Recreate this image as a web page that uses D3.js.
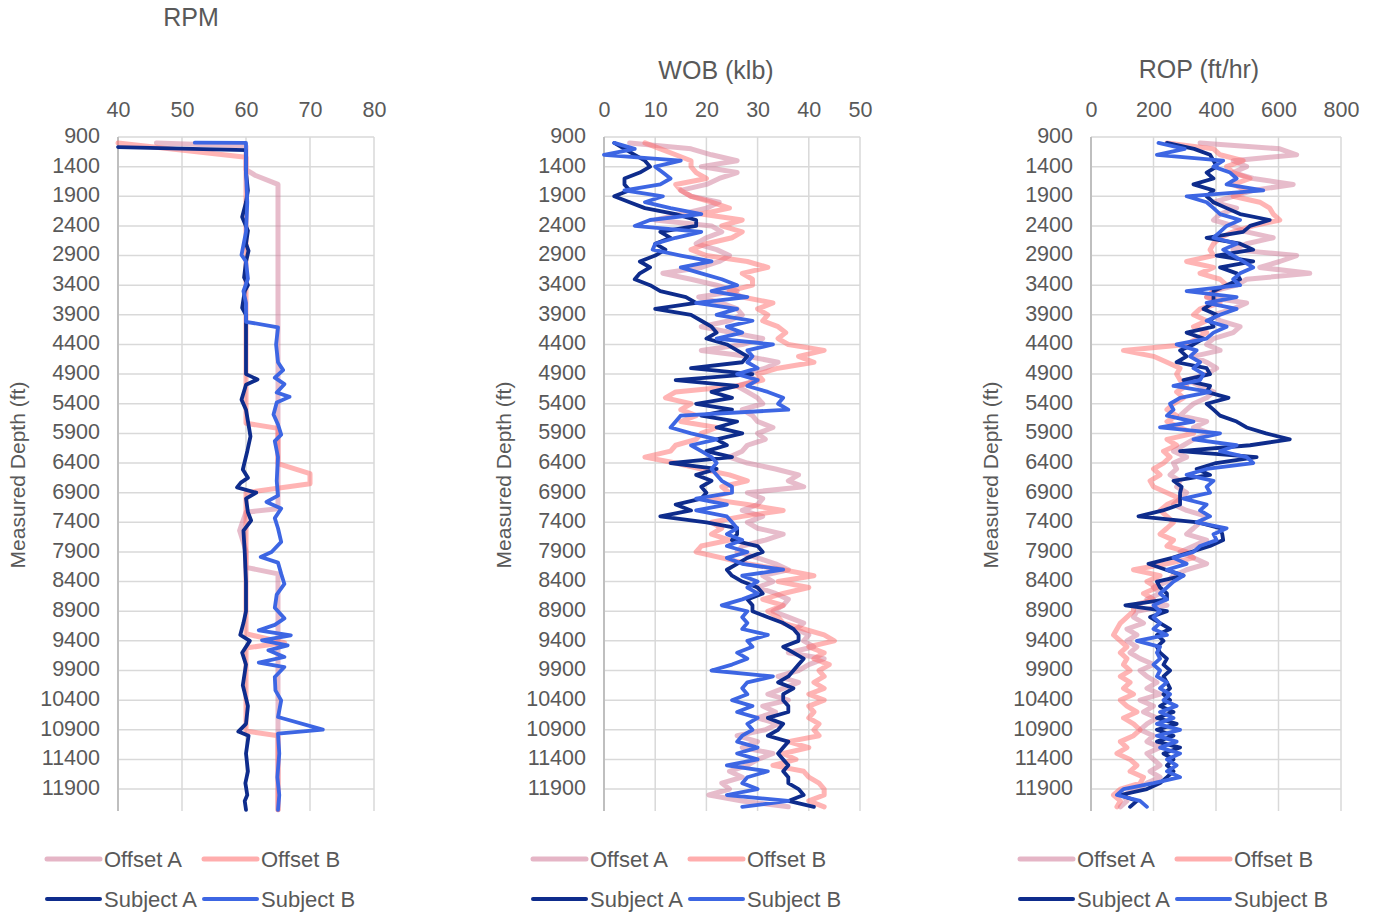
<!DOCTYPE html>
<html>
<head>
<meta charset="utf-8">
<script src="https://cdn.jsdelivr.net/npm/d3@7"></script>
<style>
  body { margin: 0; background: #fff; }
  text { font-family: "Liberation Sans", Arial, Helvetica, sans-serif; fill: #595959; }
</style>
</head>
<body>
<div id="chart"></div>
<script>
// sample depths (ft) of the WOB and ROP logs
const depths = d3.range(1000, 12201, 100);
const depthTicks = d3.range(900, 12000, 500);
const seriesNames = ["Offset A", "Offset B", "Subject A", "Subject B"];

// RPM logs are step-like, so each keeps its own depths
const rpmOffADepth = [1000, 1050, 1450, 1550, 1700, 7170, 7230, 7540, 7880, 8160, 8270, 12250];
const rpmOffA = [46, 60, 60, 61.5, 65, 65, 60, 59, 60, 60, 65, 65];
const rpmOffBDepth = [1000, 1240, 5730, 5815, 6410, 6580, 6750, 6900, 9280, 9430, 9520, 10920, 11000, 12250];
const rpmOffB = [40, 60, 60, 65, 65, 70, 70, 60, 60, 66, 60, 60, 65, 65];
const rpmSubADepth = [1070, 1120, 1500, 1800, 2000, 2250, 2480, 2700, 2820, 3000, 3270, 3400, 3500, 3780, 3900,
  4500, 4900, 4990, 5080, 5330, 5500, 5950, 6200, 6510, 6650, 6730, 6810, 6900, 7000, 7230, 7370, 7540, 7900,
  8400, 8900, 9100, 9300, 9400, 9600, 9800, 10150, 10500, 10800, 10930, 11000, 11300, 11600, 11800, 12000, 12100, 12250];
const rpmSubA = [40, 60, 60, 60.3, 60, 59.4, 60.3, 60, 60.4, 60, 59.7, 60.3, 59.8, 59.4, 60,
  60, 60, 61.8, 60, 59.3, 60, 60.7, 60.2, 59.5, 60.3, 59.2, 58.6, 61.6, 60, 60.3, 60.8, 59.6, 59.8,
  60, 60, 59.6, 59.1, 60.6, 59.4, 60, 59.5, 60.3, 60, 58.8, 60.4, 60, 60.3, 59.9, 60.2, 59.8, 60];
const rpmSubBDepth = [995, 1000, 1500, 2000, 2500, 2890, 3000, 3290, 3500, 3700, 4017, 4113, 4400, 4700, 4833, 4960,
  5070, 5210, 5284, 5380, 5580, 5750, 5920, 6030, 6300, 6700, 6950, 7056, 7168, 7330, 7500, 7730, 7900, 7984,
  8080, 8270, 8440, 8620, 8840, 9020, 9130, 9222, 9306, 9390, 9475, 9559, 9672, 9767, 9841, 10010, 10235,
  10404, 10685, 10898, 10966, 11300, 11700, 12000, 12250];
const rpmSubB = [52, 60, 60, 60.2, 60, 59.3, 60, 60.3, 59.6, 60, 60, 65, 64.7, 65, 65.8, 64.5,
  66, 64.8, 66.8, 64.8, 64.3, 65, 65.5, 64.5, 65, 64.8, 65, 63.2, 65.5, 64.5, 65, 65.5, 64, 62.3,
  65, 65.5, 66, 64.8, 64.5, 66, 64.5, 62, 67, 62.5, 66.5, 63.5, 66, 62, 66, 64.5, 64.6,
  65.5, 65, 72, 65, 65.2, 64.9, 65.2, 65];

// WOB (klb)
const wobOffA = [5, 17, 21, 26, 19, 26, 22.5, 20, 15, 17,
  22.5, 20, 15, 10, 21, 23, 20, 18, 22, 24.5,
  22.5, 19, 11.5, 17, 22, 26, 18.5, 23, 26, 27,
  24.5, 19, 25, 31, 27, 19, 28, 34, 31.5, 27,
  30, 26, 28, 30, 31, 27, 29, 30, 33, 30,
  31.5, 28, 27, 24.5, 28, 33.5, 38, 36, 39, 28,
  31, 30, 27, 31, 28, 30, 35, 31.5, 27, 26,
  30, 33.5, 36, 31, 33, 30, 33.5, 36, 35, 33,
  36, 39, 37.5, 40, 39, 41, 36, 43, 40, 38,
  34, 38, 35, 32, 36, 31, 33.5, 30, 34, 31.5,
  26, 30, 27, 33, 30, 28, 24.5, 27, 23, 24.5,
  20.5, 27, 36];
const wobOffB = [8, 11, 14, 17, 17, 18, 20, 14, 15, 17,
  21, 24.5, 19, 27, 23, 27, 25, 20, 17, 20,
  28, 32, 27, 29, 29, 24.5, 27, 33, 30, 32,
  31, 34, 35.5, 34, 36, 43, 38, 41, 34, 30,
  31, 26, 14, 12, 17, 15, 18, 15, 22, 19,
  18, 14, 13, 8, 14, 19, 24.5, 28, 23, 24.5,
  20, 28, 35, 27, 21, 23, 21, 24.5, 19, 18,
  23, 28, 35, 41, 34, 40, 35, 31, 35, 32,
  34, 35, 39, 43, 45, 40, 43, 41, 44, 42,
  43, 41, 43, 40, 43, 40, 41, 40, 42, 41,
  42, 36, 40, 35, 37.5, 33, 39, 40, 42, 43,
  43, 40, 43];
const wobSubA = [2, 4, 6, 8, 9, 7, 4, 4, 5, 2,
  5, 8, 14, 18, 18, 11, 13, 10, 12, 10,
  7, 9, 7, 6, 9, 11, 16, 18, 10, 17,
  19, 21, 22, 20, 24, 26, 28, 27, 17, 29,
  14, 26, 21, 25, 18, 25, 19, 26, 22, 27,
  22, 24, 20, 25, 13, 22, 18, 21, 19, 20,
  19, 14, 17, 11, 20, 26, 26, 25, 30, 31,
  28, 26, 24, 25, 27, 30, 31, 28, 29, 29,
  32, 35, 37, 38, 38, 35, 37, 39, 38, 37,
  36, 34, 37, 35, 35, 36, 36, 32, 35, 34,
  32, 36, 35, 34, 35, 36, 35, 36, 36, 38,
  39, 36, 41];
const wobSubB = [2, 6, 0, 15, 10, 11.5, 13, 11, 4, 11.5,
  8, 13, 19, 9, 6, 19, 14, 10, 9.5, 15,
  21, 15, 19, 23, 26, 21, 28, 18, 26, 22,
  29, 24, 27, 22, 33, 28, 29, 28, 30, 26,
  30, 28, 32, 35, 34, 36, 15, 14, 13, 17,
  22, 17, 19, 21, 22, 21, 22, 23, 25, 25,
  18, 24, 18, 24, 25, 26, 24, 27, 24, 28,
  24, 27, 35, 27, 30, 28, 30, 27, 23, 28,
  27, 28, 27, 32, 28, 29, 26, 28, 25, 21,
  33, 28, 27, 28, 25, 29, 26, 30, 28, 29,
  27, 26, 30, 26, 30, 24, 32, 28, 27, 30,
  24, 36, 27];

// ROP (ft/hr)
const ropOffA = [349, 604, 658, 455, 498, 455, 519, 647, 519, 455,
  392, 466, 413, 392, 455, 498, 583, 498, 455, 658,
  604, 540, 700, 498, 466, 392, 370, 498, 455, 392,
  413, 477, 455, 392, 370, 413, 328, 370, 402, 370,
  306, 349, 392, 370, 328, 306, 285, 370, 328, 381,
  328, 296, 264, 306, 264, 274, 253, 285, 274, 306,
  285, 264, 306, 370, 349, 328, 306, 370, 328, 285,
  328, 370, 306, 264, 243, 200, 221, 179, 243, 147,
  136, 168, 115, 147, 115, 147, 125, 157, 200, 157,
  179, 211, 179, 221, 157, 200, 168, 211, 179, 157,
  200, 179, 221, 179, 200, 221, 189, 221, 179, 147,
  104, 115, 94];
const ropOffB = [243, 392, 413, 487, 434, 455, 509, 455, 498, 455,
  540, 572, 583, 604, 519, 455, 413, 392, 381, 392,
  306, 392, 349, 413, 434, 392, 370, 413, 349, 328,
  370, 328, 370, 338, 306, 104, 200, 243, 285, 274,
  285, 306, 274, 296, 264, 243, 274, 243, 285, 328,
  243, 274, 232, 253, 232, 200, 221, 189, 200, 243,
  285, 243, 221, 243, 264, 243, 221, 264, 243, 306,
  328, 243, 136, 221, 179, 211, 168, 200, 136, 136,
  115, 94, 83, 72, 94, 115, 94, 115, 104, 125,
  94, 125, 104, 136, 94, 115, 147, 104, 136, 157,
  136, 94, 115, 83, 125, 147, 125, 168, 157, 94,
  72, 94, 83];
const ropSubA = [243, 330, 381, 392, 402, 370, 392, 328, 392, 370,
  392, 434, 477, 572, 509, 487, 370, 477, 519, 402,
  519, 413, 466, 477, 434, 392, 392, 392, 360, 402,
  381, 392, 306, 360, 328, 285, 306, 274, 370, 381,
  296, 381, 370, 440, 370, 392, 413, 466, 498, 560,
  636, 509, 285, 530, 400, 338, 381, 264, 290, 285,
  285, 285, 230, 152, 343, 413, 420, 423, 381, 320,
  260, 184, 240, 296, 211, 221, 243, 243, 110, 243,
  189, 221, 253, 211, 232, 211, 221, 243, 232, 253,
  232, 243, 253, 232, 253, 221, 264, 211, 274, 211,
  264, 211, 285, 232, 264, 243, 264, 243, 221, 179,
  94, 147, 125];
const ropSubB = [216, 300, 211, 423, 392, 445, 466, 434, 551, 306,
  370, 392, 413, 477, 434, 413, 392, 466, 423, 455,
  487, 519, 477, 455, 477, 306, 466, 370, 466, 413,
  370, 434, 392, 370, 274, 338, 317, 349, 328, 360,
  349, 264, 381, 285, 253, 264, 243, 328, 221, 413,
  328, 466, 413, 498, 519, 370, 306, 392, 370, 381,
  296, 370, 349, 381, 338, 434, 392, 402, 349, 328,
  264, 306, 243, 296, 264, 243, 221, 243, 200, 221,
  200, 221, 200, 243, 147, 221, 211, 221, 200, 221,
  211, 243, 221, 253, 232, 274, 221, 264, 211, 285,
  211, 274, 221, 285, 243, 274, 243, 285, 200, 104,
  83, 157, 179];

const styles = {
  "Offset A": { color: "#cf7997", width: 5, opacity: 0.5 },
  "Offset B": { color: "#ff6969", width: 5, opacity: 0.5 },
  "Subject A": { color: "#0e2c8c", width: 3.8, opacity: 1 },
  "Subject B": { color: "#3d66e3", width: 3.8, opacity: 1 }
};

const panels = [
  { title: "RPM", titleX: 191, titleY: 26, left: 118, right: 374, domain: [40, 80], ticks: [40, 50, 60, 70, 80],
    series: [[rpmOffADepth, rpmOffA], [rpmOffBDepth, rpmOffB], [rpmSubADepth, rpmSubA], [rpmSubBDepth, rpmSubB]] },
  { title: "WOB (klb)", titleX: 716, titleY: 79, left: 604, right: 860, domain: [0, 50], ticks: [0, 10, 20, 30, 40, 50],
    series: [[depths, wobOffA], [depths, wobOffB], [depths, wobSubA], [depths, wobSubB]] },
  { title: "ROP (ft/hr)", titleX: 1199, titleY: 78, left: 1091, right: 1341, domain: [0, 800], ticks: [0, 200, 400, 600, 800],
    series: [[depths, ropOffA], [depths, ropOffB], [depths, ropSubA], [depths, ropSubB]] }
];

const W = 1377, H = 915, plotTop = 137, plotBottom = 811;

const svg = d3.select("#chart").append("svg")
    .attr("width", W)
    .attr("height", H);

const yScale = d3.scaleLinear().domain([900, 12270]).range([plotTop, plotBottom]);

panels.forEach(p => {
  const xScale = d3.scaleLinear().domain(p.domain).range([p.left, p.right]);
  const g = svg.append("g");

  // gridlines
  g.append("g").selectAll("line")
    .data(depthTicks)
    .enter().append("line")
      .attr("x1", p.left).attr("x2", p.right)
      .attr("y1", d => yScale(d)).attr("y2", d => yScale(d))
      .attr("stroke", "#d9d9d9").attr("stroke-width", 1.5);
  g.append("g").selectAll("line")
    .data(p.ticks)
    .enter().append("line")
      .attr("x1", d => xScale(d)).attr("x2", d => xScale(d))
      .attr("y1", plotTop).attr("y2", plotBottom)
      .attr("stroke", (d, i) => i === 0 ? "#bfbfbf" : "#d9d9d9")
      .attr("stroke-width", (d, i) => i === 0 ? 2 : 1.5);

  // axes
  const xAxis = g.append("g")
      .attr("transform", "translate(0," + plotTop + ")")
      .call(d3.axisTop(xScale).tickValues(p.ticks).tickSize(0).tickPadding(20));
  const yAxis = g.append("g")
      .attr("transform", "translate(" + p.left + ",0)")
      .call(d3.axisLeft(yScale).tickValues(depthTicks).tickSize(0).tickPadding(18).tickFormat(d3.format("d")));
  [xAxis, yAxis].forEach(a => {
    a.select(".domain").remove();
    a.selectAll("text").style("font-size", "21.5px").attr("fill", "#595959")
      .style("font-family", '"Liberation Sans", Arial, sans-serif');
  });
  yAxis.selectAll("text").attr("dy", "0.25em");

  // titles
  g.append("text")
      .attr("x", p.titleX).attr("y", p.titleY)
      .attr("text-anchor", "middle")
      .style("font-size", "25px")
      .text(p.title);
  g.append("text")
      .attr("transform", "translate(" + (p.left - 100) + "," + 475 + ") rotate(-90)")
      .attr("text-anchor", "middle")
      .attr("dy", "0.35em")
      .style("font-size", "21px")
      .text("Measured Depth (ft)");

  // data lines
  const line = d3.line()
      .x(d => xScale(d[1]))
      .y(d => yScale(d[0]));
  p.series.forEach((s, i) => {
    const st = styles[seriesNames[i]];
    g.append("path")
        .datum(d3.zip(s[0], s[1]))
        .attr("fill", "none")
        .attr("stroke", st.color)
        .attr("stroke-opacity", st.opacity)
        .attr("stroke-width", st.width)
        .attr("stroke-linejoin", "round")
        .attr("stroke-linecap", "round")
        .attr("d", line);
  });

  // legend
  const legend = g.append("g");
  seriesNames.forEach((name, i) => {
    const st = styles[name];
    const col = i % 2, row = Math.floor(i / 2);
    const x0 = col === 0 ? p.left - 71 : p.left + 86;
    const y0 = row === 0 ? 859 : 899;
    legend.append("line")
        .attr("x1", x0).attr("x2", x0 + 53)
        .attr("y1", y0).attr("y2", y0)
        .attr("stroke", st.color)
        .attr("stroke-opacity", st.opacity === 1 ? 1 : 0.55)
        .attr("stroke-width", st.width === 5 ? 5 : 4)
        .attr("stroke-linecap", "round");
    legend.append("text")
        .attr("x", x0 + 57).attr("y", y0)
        .attr("dy", "0.35em")
        .style("font-size", "22px")
        .text(name);
  });
});
</script>
</body>
</html>
